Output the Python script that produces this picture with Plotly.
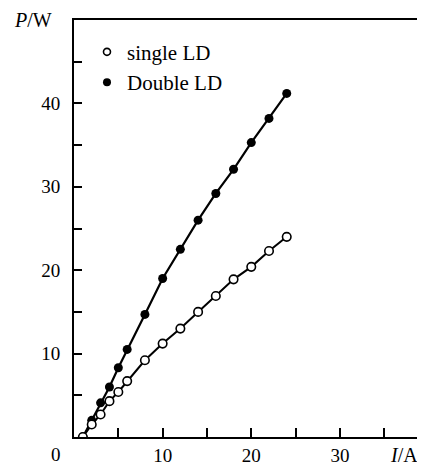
import plotly.graph_objects as go

single_I = [1, 2, 3, 4, 5, 6, 8, 10, 12, 14, 16, 18, 20, 22, 24]
single_P = [0, 1.5, 2.7, 4.3, 5.4, 6.7, 9.2, 11.2, 13.0, 15.0, 16.9, 18.9, 20.4, 22.3, 24.0]
double_I = [1, 2, 3, 4, 5, 6, 8, 10, 12, 14, 16, 18, 20, 22, 24]
double_P = [0, 2.0, 4.1, 6.0, 8.3, 10.5, 14.7, 19.0, 22.5, 26.0, 29.2, 32.1, 35.3, 38.2, 41.2]

x_ticks = [5, 10, 15, 20, 25, 30, 35]
x_labels = ["", "10", "", "20", "", "30", ""]
y_ticks = [5, 10, 15, 20, 25, 30, 35, 40, 45]
y_labels = ["", "10", "", "20", "", "30", "", "40", ""]

FONT = "Liberation Serif"

fig = go.Figure()
fig.add_trace(go.Scatter(
    x=double_I, y=double_P, mode="lines+markers", showlegend=False,
    line=dict(color="black", width=2.2),
    marker=dict(symbol="circle", size=9, color="black"),
))
fig.add_trace(go.Scatter(
    x=single_I, y=single_P, mode="lines+markers", showlegend=False,
    line=dict(color="black", width=2),
    marker=dict(symbol="circle", size=8.5, color="white", line=dict(color="black", width=1.6)),
))
# legend entries
fig.add_trace(go.Scatter(
    x=[None], y=[None], mode="markers", name="single LD",
    marker=dict(symbol="circle", size=7, color="white", line=dict(color="black", width=1.6)),
))
fig.add_trace(go.Scatter(
    x=[None], y=[None], mode="markers", name="Double LD",
    marker=dict(symbol="circle", size=8, color="black"),
))

# page body has an 8px margin, so the figure is shifted by 8px; compensate
fig.update_layout(
    width=417, height=458,
    margin=dict(l=66, r=0, t=12, b=26),
    paper_bgcolor="white", plot_bgcolor="white",
    font=dict(family=FONT, size=19, color="black"),
    legend=dict(x=0.037, y=0.972, xanchor="left", yanchor="top",
                bgcolor="rgba(0,0,0,0)", font=dict(family=FONT, size=21),
                itemwidth=30, tracegroupgap=0),
    xaxis=dict(range=[0, 39.6], showgrid=False, zeroline=False,
               showline=True, linecolor="black", linewidth=2, mirror=True,
               ticks="inside", ticklen=9, tickwidth=1.5, tickcolor="black",
               tickvals=x_ticks, ticktext=x_labels, ticklabelstandoff=0,
               tickfont=dict(family=FONT, size=19)),
    yaxis=dict(range=[0, 50], showgrid=False, zeroline=False,
               showline=True, linecolor="black", linewidth=2,
               ticks="inside", ticklen=8, tickwidth=1.5, tickcolor="black",
               tickvals=y_ticks, ticktext=y_labels, ticklabelstandoff=8,
               tickfont=dict(family=FONT, size=19)),
    annotations=[
        dict(text="<i>P</i>/W", xref="paper", yref="paper", x=-0.177, y=1.0,
             xanchor="left", yanchor="middle", showarrow=False,
             font=dict(family=FONT, size=20)),
        dict(text="<i>I</i>/A", xref="paper", yref="paper", x=0.986, y=-0.042,
             xanchor="right", yanchor="middle", showarrow=False,
             font=dict(family=FONT, size=20)),
        dict(text="0", xref="paper", yref="paper", x=-0.05, y=-0.042,
             xanchor="center", yanchor="middle", showarrow=False,
             font=dict(family=FONT, size=19)),
    ],
)

fig.write_html("out.html")
